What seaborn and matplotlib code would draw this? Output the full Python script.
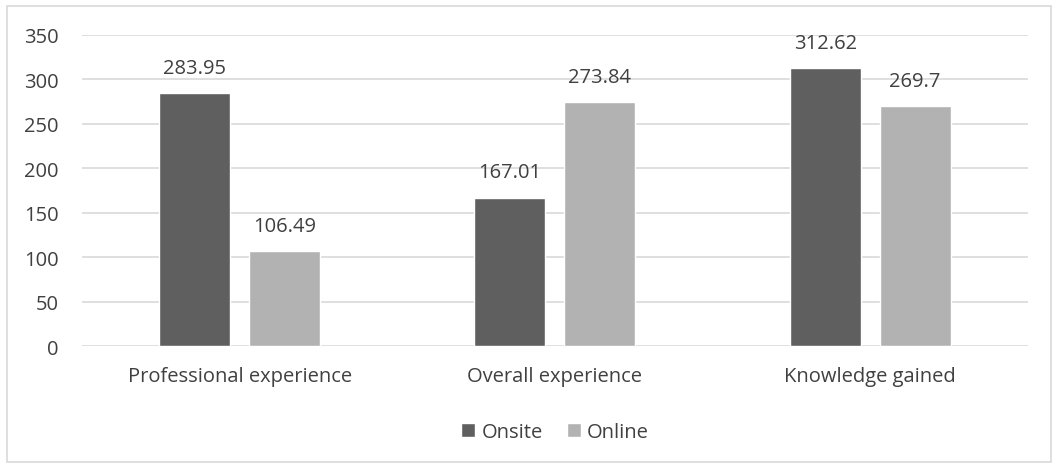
import numpy as np
import pandas as pd
import matplotlib
matplotlib.use("Agg")
import matplotlib.pyplot as plt
import seaborn as sns
from matplotlib.patches import Rectangle

# ─── Data ────────────────────────────────────────────────
categories = ["Professional experience", "Overall experience", "Knowledge gained"]
groups = ["Onsite", "Online"]
onsite = [283.95, 167.01, 312.62]
online = [106.49, 273.84, 269.7]
colors = {"Onsite": "#5f5f5f", "Online": "#b2b2b2"}

df = pd.DataFrame({
    "category": categories * 2,
    "group": ["Onsite"] * 3 + ["Online"] * 3,
    "value": onsite + online,
})

sns.set_style("white")
plt.rcParams["font.family"] = ["Open Sans", "DejaVu Sans"]
text_color = "#404040"
fs = 14.5

fig = plt.figure(figsize=(10.53, 4.64), dpi=100)
ax = fig.add_axes([0.078, 0.252, 0.898, 0.671])

sns.barplot(data=df, x="category", y="value", hue="group", order=categories,
            hue_order=groups, palette=colors, width=0.571, gap=0.21,
            saturation=1, ax=ax, legend=True)

# value labels
for cont in ax.containers:
    ax.bar_label(cont, labels=[f"{v:g}" for v in cont.datavalues], padding=11,
                 fontsize=fs, color=text_color)

ax.set_ylim(0, 350)
ax.set_yticks(range(0, 351, 50))
ax.yaxis.grid(True, color="#d9d9d9", linewidth=1.2)
ax.set_axisbelow(True)
for s in ax.spines.values():
    s.set_visible(False)
ax.set_xlabel("")
ax.set_ylabel("")
ax.tick_params(axis="both", length=0, labelsize=fs, colors=text_color)
ax.tick_params(axis="x", pad=14)
ax.tick_params(axis="y", pad=17)

ax.legend(loc="upper center", bbox_to_anchor=(0.5, -0.185), ncol=2, frameon=False,
          fontsize=fs, handlelength=0.7, handleheight=0.7, handletextpad=0.3,
          columnspacing=1.2, labelcolor=text_color)

# chart border
fig.patches.append(Rectangle((7 / 1053, 1 / 464), 1044 / 1053, 456 / 464,
                             transform=fig.transFigure, fill=False,
                             edgecolor="#d9d9d9", linewidth=1.2))

fig.savefig("out.png", dpi=100)
